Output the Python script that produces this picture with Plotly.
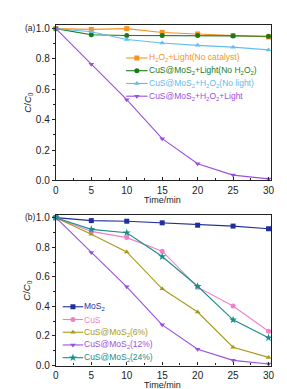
import plotly.graph_objects as go

W, H = 287, 389

time = [0, 5, 10, 15, 20, 25, 30]

# Panel (a)
a_names = ["H<sub>2</sub>O<sub>2</sub>+Light(No catalyst)",
           "CuS@MoS<sub>2</sub>+Light(No H<sub>2</sub>O<sub>2</sub>)",
           "CuS@MoS<sub>2</sub>+H<sub>2</sub>O<sub>2</sub>(No light)",
           "CuS@MoS<sub>2</sub>+H<sub>2</sub>O<sub>2</sub>+Light"]
a_vals = [
    [1.0, 0.995, 1.0, 0.975, 0.965, 0.955, 0.945],
    [1.0, 0.96, 0.955, 0.955, 0.955, 0.952, 0.95],
    [1.0, 0.98, 0.928, 0.905, 0.89, 0.878, 0.86],
    [1.0, 0.765, 0.532, 0.275, 0.11, 0.035, 0.01],
]
a_colors = ["#F7931E", "#1A7A1A", "#62BDEF", "#9A4FE0"]
a_symbols = ["square", "circle", "triangle-up", "triangle-down"]

# Panel (b)
b_names = ["MoS<sub>2</sub>", "CuS", "CuS@MoS<sub>2</sub>(6%)",
           "CuS@MoS<sub>2</sub>(12%)", "CuS@MoS<sub>2</sub>(24%)"]
b_vals = [
    [1.0, 0.98, 0.976, 0.965, 0.949, 0.943, 0.925],
    [1.0, 0.907, 0.865, 0.773, 0.53, 0.402, 0.232],
    [1.0, 0.887, 0.768, 0.519, 0.362, 0.124, 0.055],
    [1.0, 0.765, 0.532, 0.275, 0.11, 0.035, 0.01],
    [1.0, 0.921, 0.898, 0.737, 0.536, 0.309, 0.188],
]
b_colors = ["#1F2F9C", "#F27FC9", "#A89A1C", "#9A4FE0", "#1B8C8C"]
b_symbols = ["square", "circle", "triangle-up", "triangle-down", "star"]

yticks = [0.0, 0.2, 0.4, 0.6, 0.8, 1.0]
xticks = [0, 5, 10, 15, 20, 25, 30]

FONT = "Liberation Sans, Arial, sans-serif"

fig = go.Figure()

for name, vals, c, s in zip(a_names, a_vals, a_colors, a_symbols):
    fig.add_trace(go.Scatter(x=time, y=vals, mode="lines+markers", name=name,
                             line=dict(color=c, width=1.1),
                             marker=dict(symbol=s, size=5, color=c),
                             cliponaxis=False, showlegend=False,
                             xaxis="x", yaxis="y"))
for name, vals, c, s in zip(b_names, b_vals, b_colors, b_symbols):
    fig.add_trace(go.Scatter(x=time, y=vals, mode="lines+markers", name=name,
                             line=dict(color=c, width=1.1),
                             marker=dict(symbol=s, size=5 if s != "star" else 6, color=c),
                             cliponaxis=False, showlegend=False,
                             xaxis="x2", yaxis="y2"))

# Manual legends (drawn on a pixel overlay axis)
def add_legend(names, colors, symbols, x0, x1, xt, rows):
    for name, c, s, yy in zip(names, colors, symbols, rows):
        fig.add_trace(go.Scatter(x=[x0, x1], y=[yy, yy], mode="lines",
                                 line=dict(color=c, width=1.1), showlegend=False,
                                 hoverinfo="skip", xaxis="x3", yaxis="y3"))
        fig.add_trace(go.Scatter(x=[(x0 + x1) / 2], y=[yy], mode="markers",
                                 marker=dict(symbol=s, size=5 if s != "star" else 6, color=c),
                                 showlegend=False, hoverinfo="skip",
                                 xaxis="x3", yaxis="y3"))
        fig.add_annotation(x=xt, y=yy, xref="x3", yref="y3", text=name,
                           showarrow=False, xanchor="left", yanchor="middle",
                           borderpad=0,
                           font=dict(family=FONT, size=8.5, color=c))

add_legend(a_names, a_colors, a_symbols, 118, 140, 140, [49, 62, 75, 88])
add_legend(b_names, b_colors, b_symbols, 53, 74, 74, [303, 316, 329, 342, 355])

axis_common = dict(
    showline=True, linecolor="#222", linewidth=1.2, mirror=True,
    showgrid=False, zeroline=False,
    tickfont=dict(family=FONT, size=10, color="#222"),
    tickcolor="#222", ticklen=3, tickwidth=1,
)

xdom = [46 / W, 266 / W]
fig.update_layout(
    width=W, height=H,
    margin=dict(l=0, r=0, t=0, b=0),
    paper_bgcolor="white", plot_bgcolor="rgba(0,0,0,0)",
    xaxis=dict(domain=xdom, range=[0, 30.28], tickvals=xticks, ticks="inside",
               anchor="y", ticklabelstandoff=0,
               minor=dict(ticks="inside", ticklen=2, dtick=2.5, tickcolor="#222"),
               **axis_common),
    yaxis=dict(domain=[(H - 174) / H, (H - 15) / H], range=[0, 1.026],
               tickvals=yticks, tickformat=".1f", ticks="outside", anchor="x",
               minor=dict(ticks="outside", ticklen=2, dtick=0.1, tickcolor="#222"),
               **axis_common),
    xaxis2=dict(domain=xdom, range=[0, 30.28], tickvals=xticks, ticks="inside",
                anchor="y2", ticklabelstandoff=0,
                minor=dict(ticks="inside", ticklen=2, dtick=2.5, tickcolor="#222"),
                **axis_common),
    yaxis2=dict(domain=[(H - 363) / H, (H - 209) / H], range=[0, 1.02],
                tickvals=yticks, tickformat=".1f", ticks="outside", anchor="x2",
                minor=dict(ticks="outside", ticklen=2, dtick=0.1, tickcolor="#222"),
                **axis_common),
    xaxis3=dict(domain=[0, 1], range=[0, W], visible=False, fixedrange=True, anchor="y3"),
    yaxis3=dict(domain=[0, 1], range=[H, 0], visible=False, fixedrange=True, anchor="x3"),
    showlegend=False,
)

# Axis titles and panel labels
for yy in [194, 383]:
    fig.add_annotation(x=155, y=yy, xref="x3", yref="y3", text="Time/min",
                       showarrow=False, borderpad=0,
                       font=dict(family=FONT, size=9, color="#222"))
for yy in [95, 287]:
    fig.add_annotation(x=17, y=yy, xref="x3", yref="y3", text="<i>C</i>/<i>C</i><sub>0</sub>",
                       showarrow=False, textangle=-90,
                       font=dict(family=FONT, size=9.5, color="#222"))
fig.add_annotation(x=27, y=18, xref="x3", yref="y3", text="(a)", showarrow=False,
                   xanchor="right", borderpad=0,
                   font=dict(family=FONT, size=8.5, color="#222"))
fig.add_annotation(x=27, y=211, xref="x3", yref="y3", text="(b)", showarrow=False,
                   xanchor="right", borderpad=0,
                   font=dict(family=FONT, size=8.5, color="#222"))

fig.write_html("out.html")
